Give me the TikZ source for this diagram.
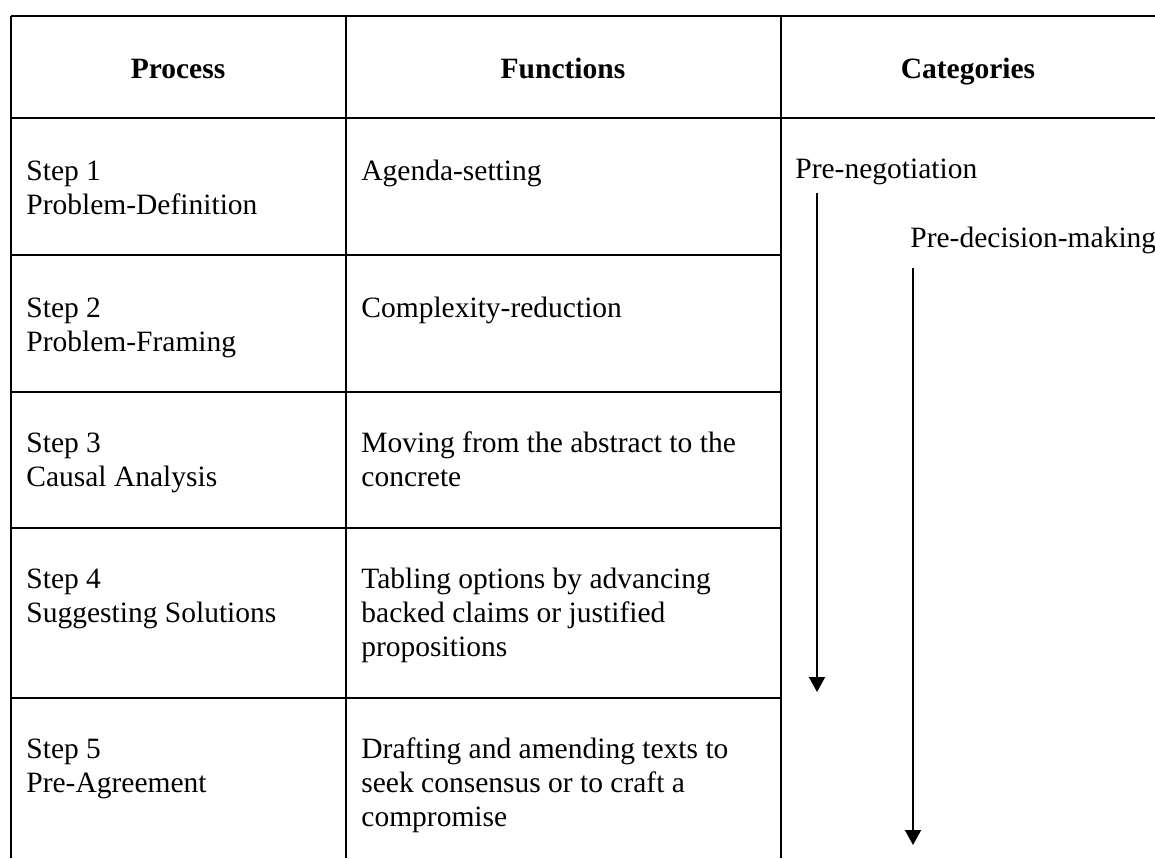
\documentclass[tikz,border=0pt]{standalone}
\usepackage{fontspec}
\setmainfont{Liberation Serif}
\usetikzlibrary{arrows.meta, positioning}

\begin{document}
\begin{tikzpicture}[
    % GLOBAL CFG
    x=0.5pt, y=-0.5pt,
    font=\fontsize{14.75pt}{17pt}\selectfont,
    % Styles
    rule/.style={% For the table lines
        line width=1pt,
        },
    head/.style={% For the column titles
        anchor=base,
        inner sep=0pt,
        font=\fontsize{14.75pt}{17pt}\selectfont\bfseries,
        },
    cellt/.style={% For the text inside the cells (base = last line)
        anchor=base west,
        align=left,
        inner sep=0pt,
        },
    catlabel/.style={% For the category names
        anchor=base west,
        inner sep=0pt,
        },
    ArrowD/.style={% Long arrows going down
        line width=1pt,
        -{Triangle[length=7.5pt, width=8pt]},
        }
    ]

    \useasboundingbox (0,0) rectangle (1155,858);

    % Draw the grid of the table
    \draw [rule] (11,16) -- (1155,16);
    \draw [rule] (11,118) -- (1155,118);
    \foreach \y in {255,392,528,698}
        \draw [rule] (11,\y) -- (781,\y);
    \foreach \x in {11,346,781}
        \draw [rule] (\x,16) -- (\x,858);

    % Draw column titles
    \node [head] (hproc) at (178,78) {Process};
    \node [head] (hfunc) at (563,78) {Functions};
    \node [head] (hcat) at (968,78) {Categories};

    % Draw the steps named step# (placed at the last line)
    \node [cellt] (step1) at (26,214) {Step 1\\Problem-Definition};
    \node [cellt] (step2) at (26,351) {Step 2\\Problem-Framing};
    \node [cellt] (step3) at (26,486) {Step 3\\Causal Analysis};
    \node [cellt] (step4) at (26,622) {Step 4\\Suggesting Solutions};
    \node [cellt] (step5) at (26,792) {Step 5\\Pre-Agreement};

    % Draw the functions named fbox#
    \node [cellt] (fbox1) at (361,180) {Agenda-setting};
    \node [cellt] (fbox2) at (361,317) {Complexity-reduction};
    \node [cellt] (fbox3) at (361,486) {Moving from the abstract to the\\concrete};
    \node [cellt] (fbox4) at (361,656) {Tabling options by advancing\\backed claims or justified\\propositions};
    \node [cellt] (fbox5) at (361,826) {Drafting and amending texts to\\seek consensus or to craft a\\compromise};

    % Draw the categories
    \node [catlabel] (neg) at (795,178) {Pre-negotiation};
    \node [catlabel] (dec) at (910,247) {Pre-decision-making};

    % Ends of the arrows
    \coordinate (negend) at (817,692);
    \coordinate (decend) at (913,845);

    % Drawing arrows
    \draw [ArrowD] (neg.south -| negend) ++(0,8) -- (negend);
    \draw [ArrowD] (dec.south -| decend) ++(0,14) -- (decend);

\end{tikzpicture}
\end{document}
